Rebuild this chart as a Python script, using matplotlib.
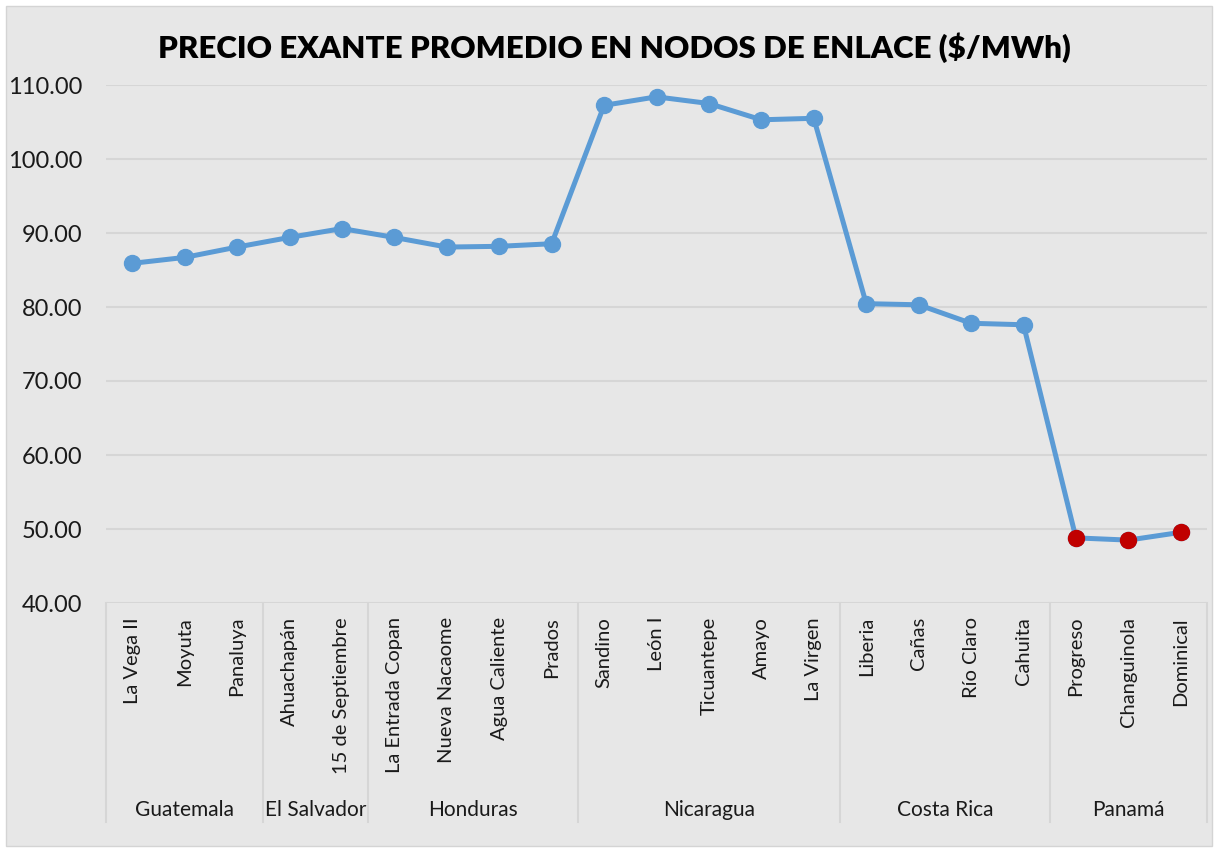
import matplotlib
matplotlib.use("Agg")
import matplotlib.pyplot as plt
from matplotlib.patches import Rectangle
import matplotlib.transforms as mtransforms

plt.rcParams['font.family'] = ['Lato', 'DejaVu Sans']

nodes = ["La Vega II", "Moyuta", "Panaluya",
         "Ahuachapán", "15 de Septiembre",
         "La Entrada Copan", "Nueva Nacaome", "Agua Caliente", "Prados",
         "Sandino", "León I", "Ticuantepe", "Amayo", "La Virgen",
         "Liberia", "Cañas", "Río Claro", "Cahuita",
         "Progreso", "Changuinola", "Dominical"]
prices = [85.9, 86.7, 88.1,
          89.4, 90.6,
          89.4, 88.1, 88.2, 88.55,
          107.25, 108.4, 107.5, 105.3, 105.5,
          80.45, 80.3, 77.8, 77.6,
          48.8, 48.5, 49.55]
countries = ["Guatemala", "El Salvador", "Honduras", "Nicaragua", "Costa Rica", "Panamá"]
country_sizes = [3, 2, 4, 5, 4, 3]
highlight_country = "Panamá"
yticks = [40, 50, 60, 70, 80, 90, 100, 110]

W, H = 1218, 852
fig = plt.figure(figsize=(W / 100, H / 100), dpi=100, facecolor="white")
fig.patches.append(Rectangle((6 / W, 6 / H), (W - 12) / W, (H - 12) / H,
                             transform=fig.transFigure, facecolor="#E7E7E7",
                             edgecolor="#D4D4D4", linewidth=1.0, zorder=-10))

left, right = 106 / W, 1207 / W
top, bottom = 1 - 85 / H, 1 - 603 / H
ax = fig.add_axes([left, bottom, right - left, top - bottom])
ax.set_facecolor("none")

x = list(range(len(nodes)))
ax.plot(x, prices, color="#5B9BD5", lw=3.6, marker="o", ms=11.5,
        markerfacecolor="#5B9BD5", markeredgecolor="#5B9BD5", zorder=3,
        solid_capstyle="round")

# highlight Panamá points
start = sum(country_sizes[:countries.index(highlight_country)])
n = country_sizes[countries.index(highlight_country)]
hx = x[start:start + n]
hy = prices[start:start + n]
ax.plot(hx, hy, linestyle="none", marker="o", ms=11.5,
        markerfacecolor="#C00000", markeredgecolor="#C00000", zorder=4)

ax.set_xlim(-0.5, len(nodes) - 0.5)
ax.set_ylim(40, 110)
ax.set_yticks(yticks)
ax.set_yticklabels([f"{v:.2f}" for v in yticks], fontsize=17, color="#1a1a1a")
ax.tick_params(axis="y", length=0, pad=17)
for v in yticks:
    ax.axhline(v, color="#D6D6D6", lw=1.5, zorder=1)
for s in ax.spines.values():
    s.set_visible(False)

ax.set_xticks(x)
ax.set_xticklabels(nodes, rotation=90, fontsize=14.5, color="#1a1a1a")
ax.tick_params(axis="x", length=0, pad=10)

trans = mtransforms.blended_transform_factory(ax.transData, ax.transAxes)
axh_px = 603 - 85
frame_bottom = -(822 - 603) / axh_px
label_y = -(810 - 603) / axh_px

bounds = [-0.5]
for s in country_sizes:
    bounds.append(bounds[-1] + s)
for b in bounds:
    ax.plot([b, b], [0, frame_bottom], transform=trans, color="#D6D6D6",
            lw=1.5, clip_on=False, zorder=1)
for i, c in enumerate(countries):
    cx = (bounds[i] + bounds[i + 1]) / 2
    ax.text(cx, label_y, c, transform=trans, ha="center", va="center",
            fontsize=15, color="#1a1a1a")

fig.text(614 / W, 1 - 48 / H, "PRECIO EXANTE PROMEDIO EN NODOS DE ENLACE ($/MWh)",
         ha="center", va="center", fontsize=22.5, fontweight="heavy", color="black")

fig.savefig("out.png", dpi=100, facecolor=fig.get_facecolor())
